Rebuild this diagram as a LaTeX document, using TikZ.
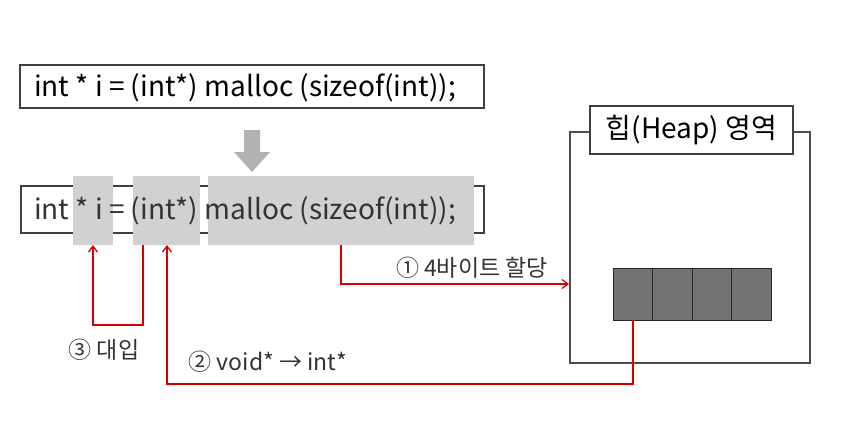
\documentclass[tikz,border=0pt]{standalone}
\usepackage{fontspec}
\setmainfont{Noto Sans CJK KR}
\usetikzlibrary{arrows.meta}
\begin{document}
\begin{tikzpicture}[x=1pt,y=-1pt,
  box/.style={draw=black!75,line width=1.2pt,fill=white},
  red/.style={draw=red!85!black,line width=1.3pt},
  arr/.style={red,-{Straight Barb[length=6pt,width=9pt]}},
  hl/.style={fill=black!18},
  code/.style={font=\fontsize{28}{32}\selectfont,anchor=west,inner sep=0pt},
  lbl/.style={font=\fontsize{23}{26}\selectfont,text=black!80}]
\useasboundingbox (0,0) rectangle (860,434);
% line 1
\node[box,minimum width=464pt,minimum height=43pt,inner sep=0pt] (c1) at (252,86.5) {};
\node[code] (t1) at (34,88) {int * i = (int*) malloc (sizeof(int));};
% gray arrow
\fill[black!30] (244,130) -- (260,130) -- (260,152) -- (270,152) -- (252,172) -- (234,152) -- (244,152) -- cycle;
% line 2
\node[box,minimum width=463pt,minimum height=47pt,inner sep=0pt] (c2) at (252.5,209.5) {};
\fill[hl] (73,176) rectangle (113,245);
\fill[hl] (133,176) rectangle (200,245);
\fill[hl] (208,176) rectangle (474,245);
\node[code,text=black!80] (t2) at (34,211) {int * i = (int*) malloc (sizeof(int));};
\coordinate (h1) at (93,245);
\coordinate (h2) at (143,245);
\coordinate (h3) at (167,245);
\coordinate (h4) at (341,245);
% heap
\draw[black!70,line width=1.2pt] (570,132) rectangle (810,363);
\node[box,minimum width=203pt,minimum height=48pt,inner sep=0pt,font=\fontsize{28}{32}\selectfont] (ht) at (691.5,130) {힙(Heap) 영역};
\foreach \i in {0,1,2,3}
  \draw[fill=black!55,draw=black!85,line width=1pt] (613+\i*39.5,268) rectangle (652.5+\i*39.5,320);
\coordinate (cell) at (633,320);
\coordinate (hl2) at (569,284);
% red connectors
\draw[arr] (h4) |- (hl2);
\draw[arr] (h2) -- (143,325) -| (h1);
\draw[arr] (cell) -- (633,384) -| (h3);
\node[lbl] (l1) at (472,268) {① 4바이트 할당};
\node[lbl] (l3) at (104,350) {③ 대입};
\node[lbl] (l2) at (268,362) {② void* → int*};
\end{tikzpicture}
\end{document}
